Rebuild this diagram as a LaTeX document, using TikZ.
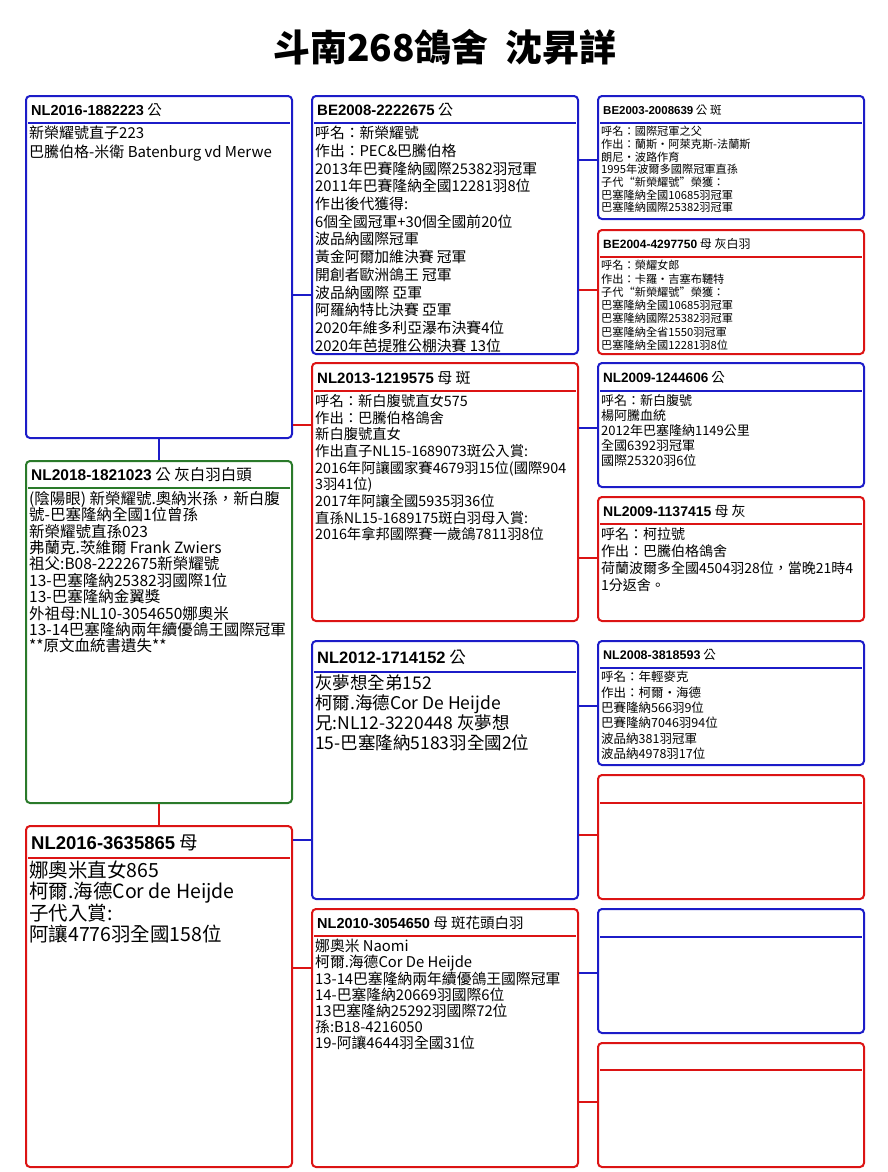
\documentclass[tikz,border=0pt]{standalone}
\usepackage{fontspec}
\setmainfont{Noto Sans CJK TC}
\newfontfamily\idfont{Liberation Sans}
\usetikzlibrary{positioning, calc}
\definecolor{sireblue}{HTML}{1C1CC8}
\definecolor{damred}{HTML}{DC1414}
\definecolor{kidgreen}{HTML}{2A7A2A}
\newcommand{\bodyfont}[2]{\fontsize{#1}{#2}\selectfont}
\newcommand{\ringno}[1]{{\idfont\bfseries #1}}
% name, position, height, colour, rule depth, head size, head, body style, body
\newcommand{\pedcard}[9]{%
  \node[card, draw=#4, minimum height=#3] (#1) at #2 {};
  \draw[cardrule, draw=#4] ($(#1.north west)+(3,#5)$) -- ($(#1.north east)+(-3,#5)$);
  \node[cardhead, font=\bodyfont{#6}{#6}] (#1-id) at ($(#1.north west)+(6,#5/2+1)$) {#7};
  \node[cardtext, #8] (#1-txt) at ($(#1.north west)+(4,#5+3)$) {#9};
}

\begin{document}
\begin{tikzpicture}[x=1pt, y=-1pt,
    card/.style={draw, rounded corners=4pt, line width=2pt, anchor=north west,
      minimum width=266pt, inner sep=0pt},
    cardrule/.style={line width=1.5pt},
    cardhead/.style={anchor=west, inner sep=0pt},
    cardtext/.style={anchor=north west, align=left, inner sep=0pt},
    blueline/.style={draw=sireblue, line width=1.5pt},
    redline/.style={draw=damred, line width=1.5pt}
  ]
  \useasboundingbox (0,0) rectangle (888,1172);
  \node[font=\bodyfont{37}{37}\bfseries] (title) at (445,47) {斗南268鴿舍\ \ 沈昇詳};

  % first generation
  \pedcard{sire}{(25,95)}{342pt}{sireblue}{28}{14.5}{\ringno{NL2016-1882223}\ 公}
    {font=\bodyfont{15}{19}}
    {新榮耀號直子223\\巴騰伯格-米衛 Batenburg vd Merwe}
  \pedcard{kid}{(25,460)}{342pt}{kidgreen}{28}{15.5}{\ringno{NL2018-1821023}\ 公\ 灰白羽白頭}
    {font=\bodyfont{15.5}{16.4}}
    {(陰陽眼) 新榮耀號.奧納米孫，新白腹\\號-巴塞隆納全國1位曾孫\\新榮耀號直孫023\\
     弗蘭克.茨維爾 Frank Zwiers\\祖父:B08-2222675新榮耀號\\13-巴塞隆納25382羽國際1位\\
     13-巴塞隆納金翼獎\\外祖母:NL10-3054650娜奧米\\13-14巴塞隆納兩年續優鴿王國際冠軍\\
     **原文血統書遺失**}
  \pedcard{dam}{(25,825)}{341pt}{damred}{33}{18.5}{\ringno{NL2016-3635865}\ 母}
    {font=\bodyfont{19.5}{21}}
    {娜奧米直女865\\柯爾.海德Cor de Heijde\\子代入賞:\\阿讓4776羽全國158位}

  % second generation
  \pedcard{ss}{(311,95)}{258pt}{sireblue}{28}{15}{\ringno{BE2008-2222675}\ 公}
    {font=\bodyfont{14.8}{17.7}}
    {呼名：新榮耀號\\作出：PEC\&巴騰伯格\\2013年巴賽隆納國際25382羽冠軍\\
     2011年巴賽隆納全國12281羽8位\\作出後代獲得:\\6個全國冠軍+30個全國前20位\\
     波品納國際冠軍\\黃金阿爾加維決賽 冠軍\\開創者歐洲鴿王 冠軍\\波品納國際 亞軍\\
     阿羅納特比決賽 亞軍\\2020年維多利亞瀑布決賽4位\\2020年芭提雅公棚決賽 13位}
  \pedcard{sd}{(311,362)}{258pt}{damred}{29}{15}{\ringno{NL2013-1219575}\ 母\ 斑}
    {font=\bodyfont{14.3}{16.7}}
    {呼名：新白腹號直女575\\作出：巴騰伯格鴿舍\\新白腹號直女\\作出直子NL15-1689073斑公入賞:\\
     2016年阿讓國家賽4679羽15位(國際904\\3羽41位)\\2017年阿讓全國5935羽36位\\
     直孫NL15-1689175斑白羽母入賞:\\2016年拿邦國際賽一歲鴿7811羽8位}
  \pedcard{ds}{(311,640)}{258pt}{sireblue}{32}{16.5}{\ringno{NL2012-1714152}\ 公}
    {font=\bodyfont{17.5}{20}}
    {灰夢想全弟152\\柯爾.海德Cor De Heijde\\兄:NL12-3220448 灰夢想\\15-巴塞隆納5183羽全國2位}
  \pedcard{dd}{(311,908)}{258pt}{damred}{28}{14.5}{\ringno{NL2010-3054650}\ 母\ 斑花頭白羽}
    {font=\bodyfont{14.8}{16}}
    {娜奧米 Naomi\\柯爾.海德Cor De Heijde\\13-14巴塞隆納兩年續優鴿王國際冠軍\\
     14-巴塞隆納20669羽國際6位\\13巴塞隆納25292羽國際72位\\孫:B18-4216050\\
     19-阿讓4644羽全國31位}

  % third generation
  \pedcard{sss}{(597,95)}{123pt}{sireblue}{28}{11.5}{\ringno{BE2003-2008639}\ 公\ 斑}
    {font=\bodyfont{11.2}{12.7}}
    {呼名：國際冠軍之父\\作出：蘭斯‧阿萊克斯-法蘭斯\\朗尼‧波路作育\\1995年波爾多國際冠軍直孫\\
     子代“新榮耀號”榮獲：\\巴塞隆納全國10685羽冠軍\\巴塞隆納國際25382羽冠軍}
  \pedcard{ssd}{(597,229)}{124pt}{damred}{28}{12}{\ringno{BE2004-4297750}\ 母\ 灰白羽}
    {font=\bodyfont{11.2}{13.3}}
    {呼名：榮耀女郎\\作出：卡羅‧吉塞布韆特\\子代“新榮耀號”榮獲：\\巴塞隆納全國10685羽冠軍\\
     巴塞隆納國際25382羽冠軍\\巴塞隆納全省1550羽冠軍\\巴塞隆納全國12281羽8位}
  \pedcard{sds}{(597,362)}{124pt}{sireblue}{29}{13.5}{\ringno{NL2009-1244606}\ 公}
    {font=\bodyfont{13}{15}}
    {呼名：新白腹號\\楊阿騰血統\\2012年巴塞隆納1149公里\\全國6392羽冠軍\\國際25320羽6位}
  \pedcard{sdd}{(597,496)}{124pt}{damred}{28}{14}{\ringno{NL2009-1137415}\ 母\ 灰}
    {font=\bodyfont{14}{17}}
    {呼名：柯拉號\\作出：巴騰伯格鴿舍\\荷蘭波爾多全國4504羽28位，當晚21時4\\1分返舍。}
  \pedcard{dss}{(597,640)}{124pt}{sireblue}{28}{12.5}{\ringno{NL2008-3818593}\ 公}
    {font=\bodyfont{12.5}{15.4}}
    {呼名：年輕麥克\\作出：柯爾‧海德\\巴賽隆納566羽9位\\巴賽隆納7046羽94位\\
     波品納381羽冠軍\\波品納4978羽17位}
  \pedcard{dsd}{(597,774)}{124pt}{damred}{29}{12}{}{}{}
  \pedcard{dds}{(597,908)}{124pt}{sireblue}{29}{12}{}{}{}
  \pedcard{ddd}{(597,1042)}{124pt}{damred}{28}{12}{}{}{}

  % connectors
  \draw[blueline] (sire) -- (kid);
  \draw[redline] (kid) -- (dam);
  \draw[blueline] (sire.east |- 0,295) -- (ss.west |- 0,295);
  \draw[redline] (sire.east |- 0,425) -- (sd.west |- 0,425);
  \draw[blueline] (dam.east |- 0,840) -- (ds.west |- 0,840);
  \draw[redline] (dam.east |- 0,968) -- (dd.west |- 0,968);
  \draw[blueline] (ss.east |- 0,160) -- (sss.west |- 0,160);
  \draw[redline] (ss.east |- 0,290) -- (ssd.west |- 0,290);
  \draw[blueline] (sd.east |- 0,428) -- (sds.west |- 0,428);
  \draw[redline] (sd.east |- 0,558) -- (sdd.west |- 0,558);
  \draw[blueline] (ds.east |- 0,706) -- (dss.west |- 0,706);
  \draw[redline] (ds.east |- 0,835) -- (dsd.west |- 0,835);
  \draw[blueline] (dd.east |- 0,973) -- (dds.west |- 0,973);
  \draw[redline] (dd.east |- 0,1102) -- (ddd.west |- 0,1102);
\end{tikzpicture}
\end{document}
